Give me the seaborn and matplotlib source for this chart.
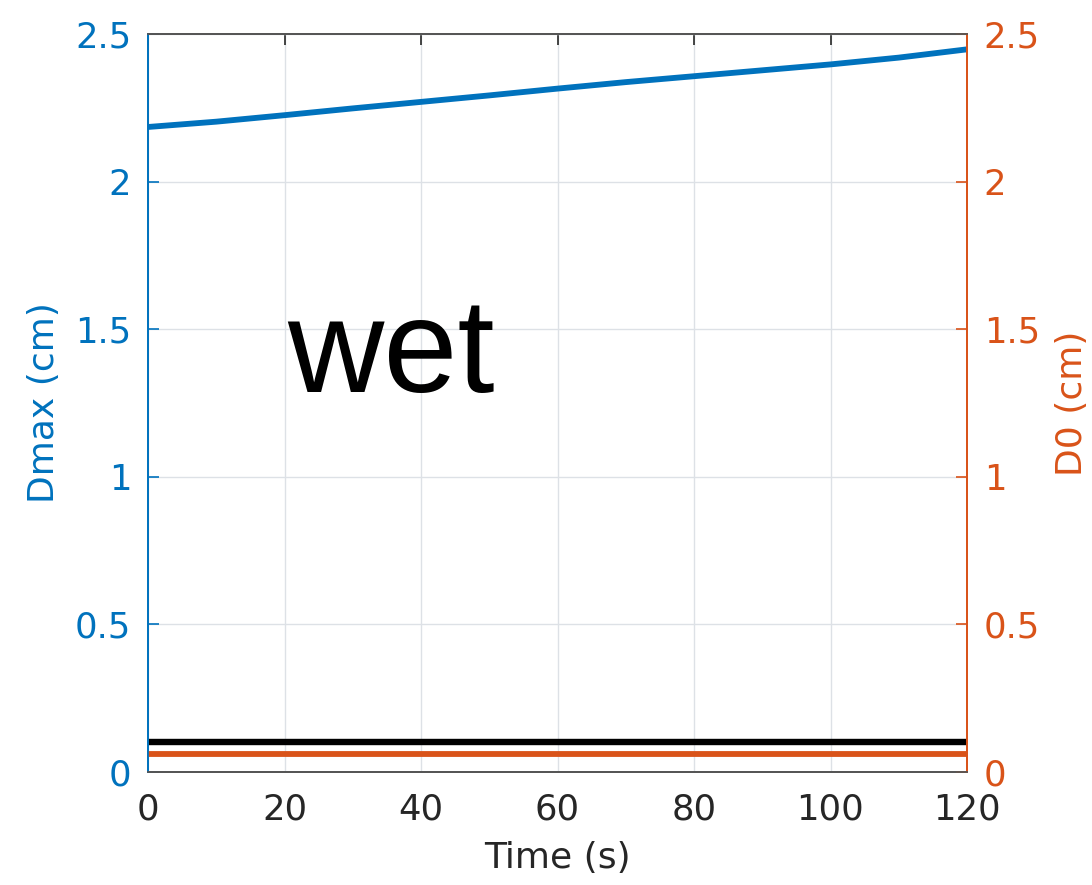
import numpy as np
import pandas as pd
import matplotlib
matplotlib.use("Agg")
import matplotlib.pyplot as plt
import seaborn as sns

# Data
time_s = [0, 10, 20, 30, 40, 50, 60, 70, 80, 90, 100, 110, 120]
dmax_cm = [2.185, 2.203, 2.225, 2.248, 2.270, 2.292, 2.315, 2.337, 2.357, 2.377, 2.397, 2.420, 2.448]
threshold_cm = [0.10] * len(time_s)
d0_cm = [0.06] * len(time_s)

x_ticks = [0, 20, 40, 60, 80, 100, 120]
y_ticks = [0, 0.5, 1, 1.5, 2, 2.5]
y_tick_labels = ["0", "0.5", "1", "1.5", "2", "2.5"]

BLUE = "#0072BD"
ORANGE = "#D95319"
DARK = "#262626"

sns.set_theme(style="white")
plt.rcParams["font.family"] = ["DejaVu Sans"]

df = pd.DataFrame({"t": time_s, "dmax": dmax_cm, "thr": threshold_cm, "d0": d0_cm})

fig = plt.figure(figsize=(10.92, 8.85), dpi=100)
ax = fig.add_axes([148 / 1092, 1 - 772 / 885, (967 - 148) / 1092, (772 - 34) / 885])
ax2 = ax.twinx()

sns.lineplot(data=df, x="t", y="dmax", ax=ax, color=BLUE, linewidth=4.2)
sns.lineplot(data=df, x="t", y="thr", ax=ax, color="black", linewidth=4.6)
sns.lineplot(data=df, x="t", y="d0", ax=ax2, color=ORANGE, linewidth=4.2)

for a in (ax, ax2):
    a.set_xlim(0, 120)
    a.set_ylim(0, 2.5)

ax.set_xticks(x_ticks)
ax.set_xticklabels([str(v) for v in x_ticks])
ax.set_yticks(y_ticks)
ax.set_yticklabels(y_tick_labels)
ax2.set_yticks(y_ticks)
ax2.set_yticklabels(y_tick_labels)

ax.grid(True, color="#DDE1E6", linewidth=1.0)
ax.set_axisbelow(True)

ax.tick_params(axis="x", direction="in", length=8, width=1.2, colors=DARK,
               labelsize=25.5, labelcolor=DARK, top=True, pad=15)
ax.tick_params(axis="y", direction="in", length=8, width=1.2, colors=BLUE,
               labelsize=25.5, labelcolor=BLUE, pad=12)
ax2.tick_params(axis="y", direction="in", length=8, width=1.2, colors=ORANGE,
                labelsize=25.5, labelcolor=ORANGE, pad=12)

for a in (ax, ax2):
    a.spines["top"].set_color("#555555")
    a.spines["bottom"].set_color("#555555")
    a.spines["left"].set_color(BLUE)
    a.spines["right"].set_color(ORANGE)
    for s in a.spines.values():
        s.set_linewidth(1.3)

ax.set_xlabel("Time (s)", fontsize=26, color=DARK, labelpad=10)
ax.set_ylabel("Dmax (cm)", fontsize=26, color=BLUE, labelpad=10)
ax2.set_ylabel("D0 (cm)", fontsize=26, color=ORANGE, labelpad=11)

ax.text(20.4, 1.287, "wet", fontsize=96, family="Liberation Sans",
        color="black", ha="left", va="baseline")

fig.savefig("out.png", dpi=100)
